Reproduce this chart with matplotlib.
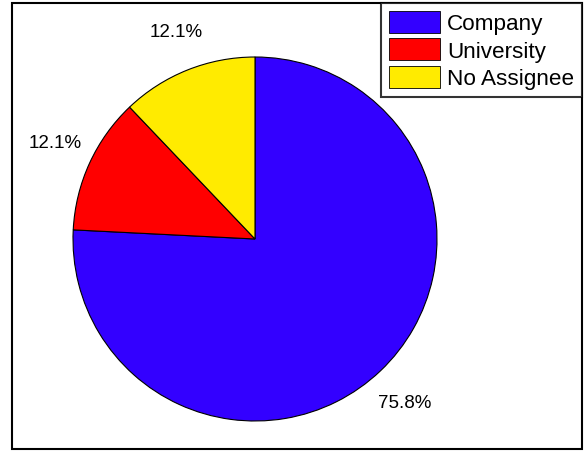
import numpy as np
import matplotlib.pyplot as plt
from matplotlib.patches import Rectangle

# assignee type shares (%)
labels = ['Company', 'University', 'No Assignee']
shares = [75.8, 12.1, 12.1]
colors = ['#3300FF', '#FF0000', '#FFEB00']

plt.rcParams['font.family'] = ['Liberation Sans', 'DejaVu Sans']

fig = plt.figure(figsize=(5.85, 4.52), dpi=100)
W, H = 585, 452

# outer frame around the whole picture
fig.patches.append(Rectangle((12 / W, 2 / H), 570 / W, 446 / H, transform=fig.transFigure,
                             fill=False, edgecolor='black', linewidth=1.5, zorder=0))

# pie axes: centre (255, 240) px, radius 182 px
ax = fig.add_axes([73 / W, 30 / H, 364 / W, 364 / H])
wedges, texts = ax.pie(shares, colors=colors, startangle=90, counterclock=False,
                       wedgeprops=dict(edgecolor='black', linewidth=0.8))
for w, v in zip(wedges, shares):
    mid = np.deg2rad((w.theta1 + w.theta2) / 2 - 1.0)
    d = 1.22
    ax.text(d * np.cos(mid), d * np.sin(mid), f'{v:.1f}%', ha='center', va='center',
            fontsize=13.5)
ax.set_xlim(-1, 1)
ax.set_ylim(-1, 1)
ax.axis('off')

leg = fig.legend(wedges, labels, loc='upper right', bbox_to_anchor=(582 / W, 448 / H),
                 fontsize=16.2, frameon=True, fancybox=False, edgecolor='black',
                 handlelength=2.3, handleheight=1.12, handletextpad=0.3,
                 labelspacing=0.17, borderpad=0.35, borderaxespad=0)
leg.get_frame().set_linewidth(1.5)
for h in leg.legend_handles:
    h.set_linewidth(0.6)

fig.savefig('out.png', dpi=100)
